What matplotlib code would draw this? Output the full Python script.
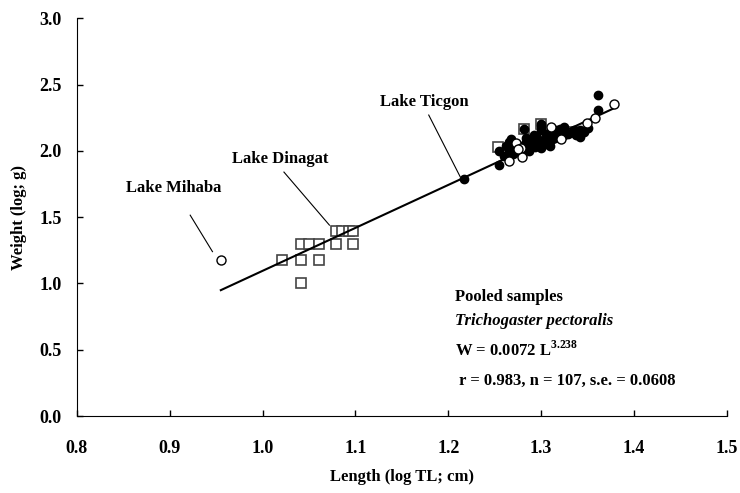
import numpy as np
import matplotlib
matplotlib.use("Agg")
import matplotlib.pyplot as plt

plt.rcParams['font.family'] = ['Liberation Serif', 'DejaVu Serif']
plt.rcParams['font.weight'] = 'bold'
plt.rcParams['mathtext.fontset'] = 'custom'
plt.rcParams['mathtext.rm'] = 'Liberation Serif:bold'
plt.rcParams['mathtext.bf'] = 'Liberation Serif:bold'

# Lake Mihaba (open circles)
mihaba_x = [0.955, 1.379, 1.358, 1.349, 1.311, 1.322, 1.266, 1.273, 1.278, 1.279, 1.275]
mihaba_y = [1.18, 2.35, 2.25, 2.21, 2.18, 2.09, 1.92, 2.06, 2.02, 1.955, 2.017]

# Lake Dinagat (open squares)
dinagat_x = [1.021, 1.041, 1.061, 1.041, 1.041, 1.050, 1.061, 1.079, 1.097,
             1.079, 1.086, 1.093, 1.097]
dinagat_y = [1.176, 1.176, 1.176, 1.000, 1.301, 1.301, 1.301, 1.301, 1.301,
             1.398, 1.398, 1.398, 1.398]

# squares hidden in the main cluster
clus_sq_x = [1.254, 1.282, 1.300, 1.333]
clus_sq_y = [2.03, 2.167, 2.20, 2.14]

# Lake Ticgon (filled circles)
ticgon_x = [1.217, 1.255, 1.361, 1.361, 1.351, 1.342, 1.342, 1.325, 1.320, 1.316,
            1.325, 1.309, 1.311, 1.306, 1.300, 1.290, 1.284, 1.277, 1.277, 1.265,
            1.265, 1.255, 1.270, 1.282, 1.288, 1.293, 1.297, 1.300, 1.303, 1.310,
            1.315, 1.318, 1.329, 1.335, 1.338, 1.346, 1.300, 1.270, 1.287, 1.296,
            1.260, 1.279, 1.262, 1.282, 1.300, 1.292, 1.305, 1.284, 1.312, 1.268]
ticgon_y = [1.79, 1.89, 2.42, 2.31, 2.17, 2.155, 2.105, 2.18, 2.167, 2.155,
            2.12, 2.12, 2.08, 2.055, 2.155, 2.09, 2.07, 2.04, 1.99, 2.068,
            2.005, 2.00, 1.98, 2.02, 2.04, 2.03, 2.06, 2.02, 2.08, 2.04,
            2.10, 2.14, 2.13, 2.16, 2.12, 2.14, 2.19, 2.03, 2.00, 2.10,
            1.96, 1.96, 2.04, 2.167, 2.20, 2.12, 2.13, 2.10, 2.09, 2.09]

# regression  log W = log a + b log L
a = 0.0072
b = 3.238
fit_x = np.array([0.955, 1.38])
fit_y = np.log10(a) + b * fit_x

fig = plt.figure(figsize=(7.4, 4.93), dpi=100)
ax = fig.add_axes([0.104, 0.156, 0.878, 0.807])

sq_col = '#444444'
ax.plot(dinagat_x, dinagat_y, 's', ms=6.5, mfc='white', mec=sq_col, mew=1.2, zorder=3)
ax.plot(clus_sq_x, clus_sq_y, 's', ms=6.5, mfc='white', mec=sq_col, mew=1.2, zorder=3)
ax.plot(fit_x, fit_y, '-', color='black', lw=1.5, zorder=4)
ax.plot(ticgon_x, ticgon_y, 'o', ms=6, mfc='black', mec='black', zorder=5)
ax.plot(mihaba_x, mihaba_y, 'o', ms=6.5, mfc='white', mec='black', mew=1.0, zorder=6)

ax.set_xlim(0.8, 1.5)
ax.set_ylim(0.0, 3.0)
ax.set_xticks(np.arange(0.8, 1.51, 0.1))
ax.set_yticks(np.arange(0.0, 3.01, 0.5))
ax.xaxis.set_major_formatter(matplotlib.ticker.FormatStrFormatter('%.1f'))
ax.yaxis.set_major_formatter(matplotlib.ticker.FormatStrFormatter('%.1f'))
ax.spines['top'].set_visible(False)
ax.spines['right'].set_visible(False)
ax.tick_params(axis='both', direction='in', length=4, width=1, labelsize=13)
ax.tick_params(axis='x', pad=17)
ax.tick_params(axis='y', pad=11)
for lbl in ax.get_xticklabels() + ax.get_yticklabels():
    lbl.set_fontweight('bold')

ax.set_xlabel('Length (log TL; cm)', fontsize=12, fontweight='bold', labelpad=9)
ax.set_ylabel('Weight (log; g)', fontsize=12, fontweight='bold', labelpad=9)

# lake labels with leader lines
ax.text(0.853, 1.72, 'Lake Mihaba', fontsize=12, fontweight='bold', va='center')
ax.plot([0.922, 0.946], [1.515, 1.24], color='black', lw=0.8)
ax.text(0.967, 1.94, 'Lake Dinagat', fontsize=12, fontweight='bold', va='center')
ax.plot([1.023, 1.072], [1.84, 1.44], color='black', lw=0.8)
ax.text(1.126, 2.37, 'Lake Ticgon', fontsize=12, fontweight='bold', va='center')
ax.plot([1.179, 1.213], [2.27, 1.803], color='black', lw=0.8)

# equation block
ax.text(1.207, 0.897, 'Pooled samples', fontsize=12, fontweight='bold', va='center')
ax.text(1.207, 0.72, 'Trichogaster pectoralis', fontsize=12, fontweight='bold',
        style='italic', va='center')
ax.text(1.207, 0.50, r'W = 0.0072 L$^{3.238}$', fontsize=12, fontweight='bold',
        va='center')
ax.text(1.207, 0.264, ' r = 0.983, n = 107, s.e. = 0.0608', fontsize=12,
        fontweight='bold', va='center')

fig.savefig('out.png', dpi=100)
